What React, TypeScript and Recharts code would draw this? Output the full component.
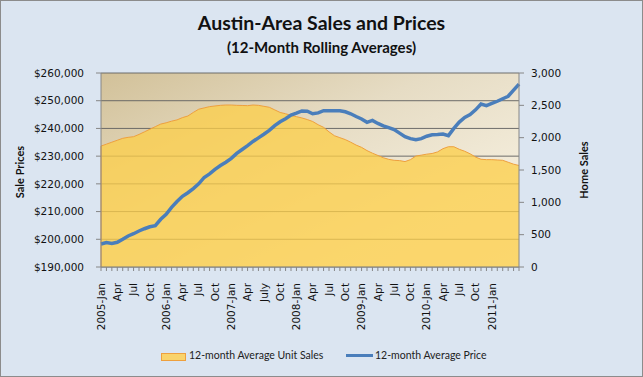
import { ComposedChart, Area, Line, XAxis, YAxis, CartesianGrid, ReferenceLine } from 'recharts'

const months = [
  '2005-01', '2005-02', '2005-03', '2005-04', '2005-05', '2005-06', '2005-07', '2005-08', '2005-09', '2005-10', '2005-11', '2005-12',
  '2006-01', '2006-02', '2006-03', '2006-04', '2006-05', '2006-06', '2006-07', '2006-08', '2006-09', '2006-10', '2006-11', '2006-12',
  '2007-01', '2007-02', '2007-03', '2007-04', '2007-05', '2007-06', '2007-07', '2007-08', '2007-09', '2007-10', '2007-11', '2007-12',
  '2008-01', '2008-02', '2008-03', '2008-04', '2008-05', '2008-06', '2008-07', '2008-08', '2008-09', '2008-10', '2008-11', '2008-12',
  '2009-01', '2009-02', '2009-03', '2009-04', '2009-05', '2009-06', '2009-07', '2009-08', '2009-09', '2009-10', '2009-11', '2009-12',
  '2010-01', '2010-02', '2010-03', '2010-04', '2010-05', '2010-06', '2010-07', '2010-08', '2010-09', '2010-10', '2010-11', '2010-12',
  '2011-01', '2011-02', '2011-03', '2011-04', '2011-05', '2011-06',
]

// axis labels as printed under the chart (every 3rd month, 2011-Apr left blank)
const tickLabels = [
  '2005-Jan', '', '', 'Apr', '', '', 'Jul', '', '', 'Oct', '', '',
  '2006-Jan', '', '', 'Apr', '', '', 'Jul', '', '', 'Oct', '', '',
  '2007-Jan', '', '', 'Apr', '', '', 'July', '', '', 'Oct', '', '',
  '2008-Jan', '', '', 'Apr', '', '', 'Jul', '', '', 'Oct', '', '',
  '2009-Jan', '', '', 'Apr', '', '', 'Jul', '', '', 'Oct', '', '',
  '2010-Jan', '', '', 'Apr', '', '', 'Jul', '', '', 'Oct', '', '',
  '2011-Jan', '', '', '', '', '',
]

const unitSales = [
  1870, 1900, 1930, 1960, 1990, 2005, 2015, 2050, 2090, 2130, 2170, 2210,
  2230, 2255, 2275, 2310, 2335, 2390, 2440, 2460, 2480, 2490, 2500, 2505,
  2505, 2500, 2498, 2495, 2505, 2500, 2485, 2470, 2430, 2390, 2370, 2345,
  2325, 2305, 2280, 2250, 2200, 2160, 2090, 2030, 2000, 1970, 1930, 1885,
  1850, 1800, 1760, 1725, 1690, 1665, 1650, 1645, 1630, 1660, 1715, 1730,
  1745, 1755, 1780, 1830, 1860, 1860, 1820, 1790, 1750, 1700, 1666, 1660,
  1660, 1655, 1650, 1620, 1590, 1570,
]

const avgPrice = [
  198300, 198800, 198500, 198900, 200000, 201200, 202000, 203000, 203800, 204500, 204900, 207200,
  209000, 211500, 213600, 215500, 216800, 218300, 220000, 222300, 223600, 225200, 226600, 227800,
  229200, 231000, 232400, 233800, 235300, 236600, 237900, 239300, 241000, 242400, 243500, 244800,
  245500, 246300, 246200, 245300, 245600, 246400, 246400, 246400, 246400, 246000, 245300, 244300,
  243400, 242200, 242900, 241800, 240900, 240300, 239600, 238300, 237000, 236300, 235900, 236300,
  237200, 237700, 237800, 238000, 237400, 240000, 242300, 244000, 245000, 246700, 248800, 248200,
  249000, 249800, 250700, 251600, 253800, 256000,
]

const priceTicks = [190000, 200000, 210000, 220000, 230000, 240000, 250000, 260000]
const salesTicks = [0, 500, 1000, 1500, 2000, 2500, 3000]

const data = months.map((m, i) => ({ month: m, sales: unitSales[i], price: avgPrice[i] }))

const tickFont = 'DejaVu Sans, Verdana, sans-serif'
const titleFont = 'Lato, "Open Sans", sans-serif'

function MonthTick(props: any) {
  const { x, y, payload } = props
  const label = tickLabels[months.indexOf(payload.value)] || ''
  if (!label) return null
  return (
    <text
      transform={`translate(${x},${y + 10}) rotate(-90)`}
      textAnchor="end"
      dy="0.35em"
      fontSize={10.5}
      fontFamily={tickFont}
      fill="#111"
    >
      {label}
    </text>
  )
}

export default function App() {
  return (
    <div style={{ position: 'absolute', left: 0, top: 0, width: 643, height: 377, background: '#dbe5f1', overflow: 'hidden' }}>
      <ComposedChart width={643} height={377} data={data} margin={{ top: 73, right: 0, bottom: 0, left: 0 }}>
        <defs>
          <linearGradient id="plotBg" x1="0" y1="0" x2="1" y2="1">
            <stop offset="0%" stopColor="#d2c199" />
            <stop offset="40%" stopColor="#e6dcc4" />
            <stop offset="75%" stopColor="#f3ecda" />
            <stop offset="100%" stopColor="#f6f0e0" />
          </linearGradient>
        </defs>
        <CartesianGrid
          yAxisId="left"
          vertical={false}
          fill="url(#plotBg)"
          stroke="#5f5f5f"
          strokeOpacity={0.9}
        />
        <XAxis
          dataKey="month"
          scale="point"
          interval={0}
          height={110}
          tick={<MonthTick />}
          tickSize={4}
          tickLine={{ stroke: '#868686' }}
          axisLine={{ stroke: '#868686' }}
        />
        <YAxis
          yAxisId="left"
          domain={[190000, 260000]}
          ticks={priceTicks}
          width={101}
          tickSize={5}
          tickMargin={12}
          tickLine={{ stroke: '#868686' }}
          axisLine={{ stroke: '#868686' }}
          tick={{ fontSize: 10.5, fontFamily: tickFont, fill: '#111' }}
          tickFormatter={(v: number) => `$${v.toLocaleString('en-US')}`}
        />
        <YAxis
          yAxisId="right"
          orientation="right"
          domain={[0, 3000]}
          ticks={salesTicks}
          width={124}
          tickSize={5}
          tickMargin={7}
          tickLine={{ stroke: '#868686' }}
          axisLine={{ stroke: '#868686' }}
          tick={{ fontSize: 10.5, fontFamily: tickFont, fill: '#111', textAnchor: 'start' }}
          tickFormatter={(v: number) => v.toLocaleString('en-US')}
        />
        <Area
          yAxisId="right"
          type="linear"
          dataKey="sales"
          name="12-month Average Unit Sales"
          stroke="#eea03e"
          strokeWidth={1}
          fill="#fdce48"
          fillOpacity={0.76}
          isAnimationActive={false}
        />
        <ReferenceLine
          yAxisId="right"
          segment={[{ x: months[0], y: 0 }, { x: months[0], y: unitSales[0] }]}
          stroke="#eea03e"
        />
        <Line
          yAxisId="left"
          type="linear"
          dataKey="price"
          name="12-month Average Price"
          stroke="#4a7ebb"
          strokeWidth={3.5}
          dot={false}
          isAnimationActive={false}
        />
      </ComposedChart>

      <div style={{ position: 'absolute', left: 0, top: 11, width: 643, textAlign: 'center', fontFamily: titleFont, fontWeight: 700, fontSize: 19.5, color: '#111' }}>
        Austin-Area Sales and Prices
      </div>
      <div style={{ position: 'absolute', left: 0, top: 38, width: 643, textAlign: 'center', fontFamily: titleFont, fontWeight: 700, fontSize: 15, color: '#111' }}>
        (12-Month Rolling Averages)
      </div>

      <div style={{ position: 'absolute', left: 19, top: 172, transform: 'translate(-50%,-50%) rotate(-90deg)', whiteSpace: 'nowrap', fontFamily: titleFont, fontWeight: 700, fontSize: 11, color: '#111' }}>
        Sale Prices
      </div>
      <div style={{ position: 'absolute', left: 583, top: 170, transform: 'translate(-50%,-50%) rotate(-90deg)', whiteSpace: 'nowrap', fontFamily: titleFont, fontWeight: 700, fontSize: 11, color: '#111' }}>
        Home Sales
      </div>

      <div style={{ position: 'absolute', left: 161, top: 353, width: 23, height: 6, background: '#f9d36b', border: '1px solid #eea03e' }} />
      <div style={{ position: 'absolute', left: 189, top: 349, fontFamily: titleFont, fontSize: 10.5, color: '#222', whiteSpace: 'nowrap' }}>
        12-month Average Unit Sales
      </div>
      <div style={{ position: 'absolute', left: 346, top: 354, width: 27, height: 3, background: '#4a7ebb' }} />
      <div style={{ position: 'absolute', left: 375, top: 349, fontFamily: titleFont, fontSize: 10.5, color: '#222', whiteSpace: 'nowrap' }}>
        12-month Average Price
      </div>

      <div style={{ position: 'absolute', left: 0, top: 0, width: 641, height: 375, border: '1px solid #8c8c8c', pointerEvents: 'none' }} />
    </div>
  )
}
